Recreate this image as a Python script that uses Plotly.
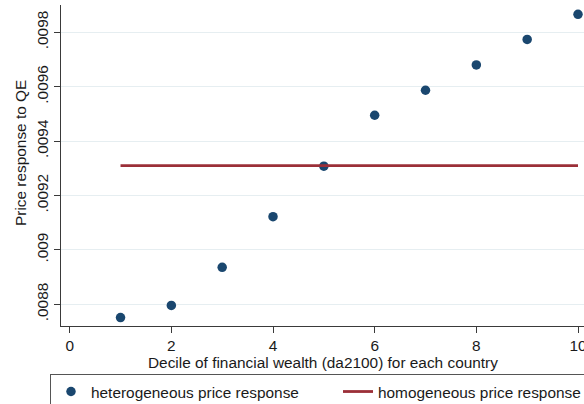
import plotly.graph_objects as go

# Deciles of financial wealth
deciles = [1, 2, 3, 4, 5, 6, 7, 8, 9, 10]

# Price response to QE by decile
heterogeneous = [0.008751, 0.008796, 0.008936, 0.009122, 0.009308,
                 0.009495, 0.009587, 0.009680, 0.009774, 0.009866]
homogeneous = [0.00931, 0.00931, 0.00931, 0.00931, 0.00931,
               0.00931, 0.00931, 0.00931, 0.00931, 0.00931]

x_ticks = [0, 2, 4, 6, 8, 10]
y_ticks = [0.0088, 0.009, 0.0092, 0.0094, 0.0096, 0.0098]
y_tick_text = [".0088", ".009", ".0092", ".0094", ".0096", ".0098"]

NAVY = "#1a476f"
MAROON = "#9b2f38"
AXIS = "#3a3a3a"
GRID = "#e6eef1"
FONT = "Liberation Sans, Arial, sans-serif"
FS = 15.4

fig = go.Figure()
fig.add_trace(go.Scatter(
    x=deciles, y=heterogeneous, mode="markers",
    marker=dict(color=NAVY, size=9.5, line=dict(width=0)),
    name="heterogeneous price response",
))
fig.add_trace(go.Scatter(
    x=deciles, y=homogeneous, mode="lines",
    line=dict(color=MAROON, width=2.8),
    name="homogeneous price response",
))

W, H = 584, 404
L, R, T, B = 61, 0, 5, 78
pw, ph = W - L - R, H - T - B


def px_x(p):
    return (p - L) / pw


def px_y(p):
    return (H - B - p) / ph


fig.update_layout(
    width=W, height=H,
    margin=dict(l=L, r=R, t=T, b=B, pad=0, autoexpand=False),
    paper_bgcolor="white", plot_bgcolor="white",
    font=dict(family=FONT, size=FS, color="#1a1a1a"),
    showlegend=True,
    legend=dict(
        orientation="h", xref="paper", yref="paper",
        x=px_x(50), y=px_y(374), xanchor="left", yanchor="top",
        bgcolor="white", bordercolor="#555555", borderwidth=1,
        font=dict(family=FONT, size=FS, color="#1a1a1a"),
        itemwidth=30, tracegroupgap=0,
        entrywidth=242, entrywidthmode="pixels",
    ),
    xaxis=dict(
        range=[-0.171, 10.118], tickvals=x_ticks,
        showgrid=False, zeroline=False, automargin=False,
        showline=True, linecolor=AXIS, linewidth=1,
        ticks="outside", ticklen=6, tickcolor=AXIS, tickwidth=1,
        ticklabeloverflow="allow",
        tickfont=dict(family=FONT, size=FS, color="#1a1a1a"),
    ),
    yaxis=dict(
        range=[0.0087202, 0.0099004], tickvals=y_ticks, ticktext=y_tick_text,
        tickangle=-90, automargin=False,
        showgrid=True, gridcolor=GRID, gridwidth=1, zeroline=False,
        showline=True, linecolor=AXIS, linewidth=1,
        ticks="outside", ticklen=6, tickcolor=AXIS, tickwidth=1,
        tickfont=dict(family=FONT, size=FS, color="#1a1a1a"),
    ),
    annotations=[
        dict(text="Decile of financial wealth (da2100) for each country",
             xref="paper", yref="paper", x=px_x(323), y=px_y(362),
             xanchor="center", yanchor="middle", showarrow=False,
             font=dict(family=FONT, size=FS, color="#1a1a1a")),
        dict(text="Price response to QE",
             xref="paper", yref="paper", x=px_x(20), y=px_y(153),
             xanchor="center", yanchor="middle", showarrow=False,
             textangle=-90,
             font=dict(family=FONT, size=FS, color="#1a1a1a")),
    ],
)

fig.write_html("out.html")
